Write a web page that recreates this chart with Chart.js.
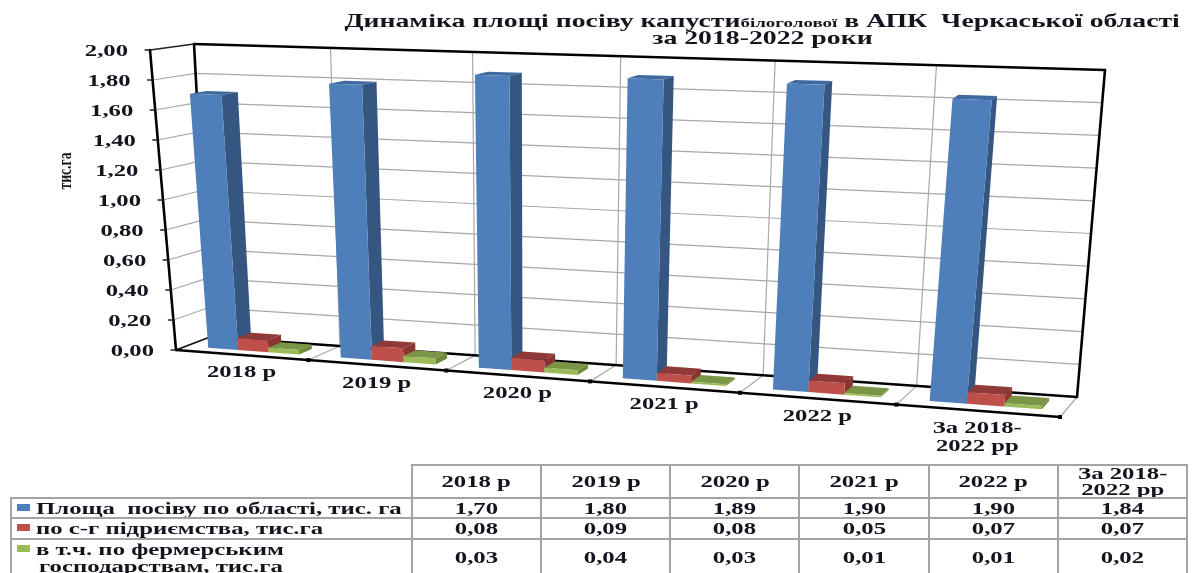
<!DOCTYPE html>
<html>
<head>
<meta charset="utf-8">
<script src="https://cdn.jsdelivr.net/npm/chart.js@4"></script>
<style>
html,body{margin:0;padding:0;background:#fff;overflow:hidden;width:1196px;height:573px}
body{position:relative;font-family:"Liberation Serif",serif;font-weight:bold;color:#14141e}
canvas{position:absolute;left:0;top:0}
.w{display:inline-block;white-space:pre;transform:scaleX(1.5);transform-origin:center}
.title{position:absolute;left:262px;width:1000px;text-align:center;font-size:19px;line-height:17px;white-space:pre}
.title .w{transform:scaleX(1.46)}
.small{font-size:13px}
table{position:absolute;left:10px;top:464px;border-collapse:collapse;table-layout:fixed;width:1176px;font-size:16.5px}
td{border:2px solid #a3a3a3;padding:0;text-align:center;overflow:hidden;line-height:17px}
tr.head td{line-height:15.5px}
td.blank{border-top:none;border-left:none}
td.name{text-align:left;position:relative;padding-left:24px;white-space:nowrap}
td.name .w{transform-origin:left center}
td.name .w+br+.w{margin-left:3px}
td.name i{position:absolute;left:5px;width:13px;height:7px}
</style>
</head>
<body>
<canvas id="myChart" width="1196" height="573"></canvas>
<div class="title" style="top:12px"><span class="w">Динаміка площі посіву капусти<span class="small">білоголової</span> в АПК  Черкаської області</span></div>
<div class="title" style="top:29px"><span class="w">за 2018-2022 роки</span></div>
<table id="dataTable"></table>
<script>
var categories = ["2018 р", "2019 р", "2020 р", "2021 р", "2022 р", ["За 2018-", "2022 рр"]];
var seriesNames = ["Площа  посіву по області, тис. га", "по с-г підриємства, тис.га", ["в т.ч. по фермерським", "господарствам, тис.га"]];
var area_total = [1.70, 1.80, 1.89, 1.90, 1.90, 1.84];
var area_enterprises = [0.08, 0.09, 0.08, 0.05, 0.07, 0.07];
var area_farms = [0.03, 0.04, 0.03, 0.01, 0.01, 0.02];
var yTitle = "тис.га";

var colors = [
    {front: "#4f7fbb", side: "#355680", top: "#3f6aa0"},
    {front: "#bf4f4b", side: "#883533", top: "#8f3a38"},
    {front: "#9bbb59", side: "#6e8a3a", top: "#7a9545"}
];

// corners of the 3d box: front plane, back plane
var fBL = [176, 350], fBR = [1060, 417], fTL = [150, 50], fTR = [1096, 80];
var bBL = [210, 337], bBR = [1077, 397], bTL = [194, 44], bTR = [1105, 70];
var warpA = 1.135;
var barD0 = 0.3, barD1 = 0.7, barShift = 0.0025;

function mix(a, b, t) {
    return [a[0] + (b[0] - a[0]) * t, a[1] + (b[1] - a[1]) * t];
}
function project(u, v, d) {
    var f = u / (u + warpA * (1 - u));
    var bottom = mix(mix(fBL, fBR, f), mix(bBL, bBR, f), d);
    var top = mix(mix(fTL, fTR, f), mix(bTL, bTR, f), d);
    return mix(bottom, top, v);
}
function line(ctx, a, b, color, width) {
    ctx.strokeStyle = color;
    ctx.lineWidth = width;
    ctx.beginPath();
    ctx.moveTo(a[0], a[1]);
    ctx.lineTo(b[0], b[1]);
    ctx.stroke();
}
function poly(ctx, pts, color) {
    ctx.fillStyle = color;
    ctx.beginPath();
    pts.forEach(function (p, i) {
        if (i == 0) ctx.moveTo(p[0], p[1]); else ctx.lineTo(p[0], p[1]);
    });
    ctx.closePath();
    ctx.fill();
}
function wideText(ctx, text, x, y, align) {
    ctx.save();
    ctx.translate(x, y);
    ctx.scale(1.45, 1);
    ctx.textAlign = align;
    ctx.textBaseline = "middle";
    ctx.fillText(text, 0, 0);
    ctx.restore();
}

var box3d = {
    id: "box3d",
    beforeDatasetsDraw: function (chart) {
        var ctx = chart.ctx, a = chart.chartArea;
        var xs = chart.scales.x, ys = chart.scales.y;
        var toU = function (x) { return (x - a.left) / a.width; };
        var toV = function (y) { return (a.bottom - y) / a.height; };
        var step = a.width / categories.length;
        ctx.save();
        ctx.lineCap = "round";

        // grid on walls
        ys.ticks.forEach(function (t) {
            var v = toV(ys.getPixelForValue(t.value));
            if (t.value > 0 && t.value < 2) {
                line(ctx, project(0, v, 0), project(0, v, 1), "#a8a8a8", 1.2);
                line(ctx, project(0, v, 1), project(1, v, 1), "#a8a8a8", 1.2);
            }
        });
        categories.forEach(function (c, i) {
            var u = toU(xs.getPixelForValue(i) + step / 2);
            if (i < categories.length - 1) {
                line(ctx, project(u, 1, 1), project(u, 0, 1), "#a8a8a8", 1.2);
            }
            line(ctx, project(u, 0, 0), project(u, 0, 1), "#a8a8a8", 1.2);
        });

        // frame
        line(ctx, bTL, bBL, "#000", 2.6);
        line(ctx, bTL, bTR, "#000", 2.6);
        line(ctx, bTR, bBR, "#000", 2.6);
        line(ctx, bBL, bBR, "#000", 2.4);
        line(ctx, fTL, bTL, "#222", 1.6);
        line(ctx, fBL, bBL, "#111", 1.8);
        line(ctx, fTL, fBL, "#000", 2.6);
        line(ctx, fBL, fBR, "#000", 2.4);

        // bars
        chart.data.datasets.forEach(function (ds, n) {
            var c = colors[n];
            chart.getDatasetMeta(n).data.forEach(function (el) {
                var u0 = toU(el.x - el.width / 2) + barShift, u1 = toU(el.x + el.width / 2) + barShift;
                var v0 = toV(el.base), v1 = toV(el.y);
                poly(ctx, [project(u1, v0, barD0), project(u1, v0, barD1), project(u1, v1, barD1), project(u1, v1, barD0)], c.side);
                poly(ctx, [project(u0, v1, barD0), project(u1, v1, barD0), project(u1, v1, barD1), project(u0, v1, barD1)], c.top);
                poly(ctx, [project(u0, v0, barD0), project(u1, v0, barD0), project(u1, v1, barD0), project(u0, v1, barD0)], c.front);
            });
        });

        // axis ticks and labels
        ctx.fillStyle = "#14141e";
        ctx.font = "bold 17px 'Liberation Serif'";
        ys.ticks.forEach(function (t) {
            var p = project(0, toV(ys.getPixelForValue(t.value)), 0);
            line(ctx, [p[0] - 5, p[1]], p, "#222", 1.4);
            ctx.fillStyle = "#14141e";
            wideText(ctx, t.label, p[0] - 22, p[1] + 1.5, "right");
        });
        categories.forEach(function (c, i) {
            var u = toU(xs.getPixelForValue(i));
            var end = project(toU(xs.getPixelForValue(i) + step / 2), 0, 0);
            ctx.fillStyle = "#000";
            ctx.fillRect(end[0] - 2, end[1] - 2, 4, 4);
            ctx.fillStyle = "#14141e";
            var p = project(u, 0, 0);
            [].concat(c).forEach(function (txt, k) {
                wideText(ctx, txt, p[0], p[1] + 18 + k * 18, "center");
            });
        });
        ctx.save();
        ctx.translate(66, 171);
        ctx.rotate(-Math.PI / 2);
        ctx.scale(0.72, 1);
        ctx.font = "bold 19px 'Liberation Serif'";
        ctx.textAlign = "center";
        ctx.textBaseline = "middle";
        ctx.fillText(yTitle, 0, 0);
        ctx.restore();
        ctx.restore();
        return false;
    }
};

var myChart = document.getElementById("myChart").getContext("2d");
var chart = new Chart(myChart, {
    type: "bar",
    plugins: [box3d],
    data: {
        labels: categories,
        datasets: [
            {label: "Площа посіву по області, тис. га", data: area_total, backgroundColor: colors[0].front},
            {label: "по с-г підриємства, тис.га", data: area_enterprises, backgroundColor: colors[1].front},
            {label: "в т.ч. по фермерським господарствам, тис.га", data: area_farms, backgroundColor: colors[2].front}
        ]
    },
    options: {
        responsive: false,
        animation: false,
        categoryPercentage: 0.69,
        barPercentage: 1,
        layout: {padding: {left: 176, right: 136, top: 50, bottom: 223}},
        plugins: {legend: {display: false}, tooltip: {enabled: false}},
        scales: {
            x: {grid: {display: false}, border: {display: false}, ticks: {display: false}},
            y: {
                min: 0,
                max: 2,
                grid: {display: false},
                border: {display: false},
                ticks: {
                    display: false,
                    stepSize: 0.2,
                    callback: function (value) { return value.toFixed(2).replace(".", ","); }
                }
            }
        }
    }
});

// table under the chart
function cell(text) {
    return '<span class="w">' + text + "</span>";
}
function fmt(v) {
    return v.toFixed(2).replace(".", ",");
}
var html = '<colgroup><col style="width:401px">';
categories.forEach(function () { html += '<col style="width:129.17px">'; });
html += '</colgroup><tr class="head" style="height:33px"><td class="blank"></td>';
categories.forEach(function (c) {
    html += "<td>" + [].concat(c).map(cell).join("<br>") + "</td>";
});
html += "</tr>";
var rows = [area_total, area_enterprises, area_farms];
var heights = [20, 21, 37];
rows.forEach(function (r, n) {
    html += '<tr style="height:' + heights[n] + 'px"><td class="name"><i style="top:5px;background:' + colors[n].front + '"></i>';
    html += [].concat(seriesNames[n]).map(cell).join("<br>") + "</td>";
    r.forEach(function (v) { html += "<td>" + cell(fmt(v)) + "</td>"; });
    html += "</tr>";
});
document.getElementById("dataTable").innerHTML = html;
</script>
</body>
</html>
